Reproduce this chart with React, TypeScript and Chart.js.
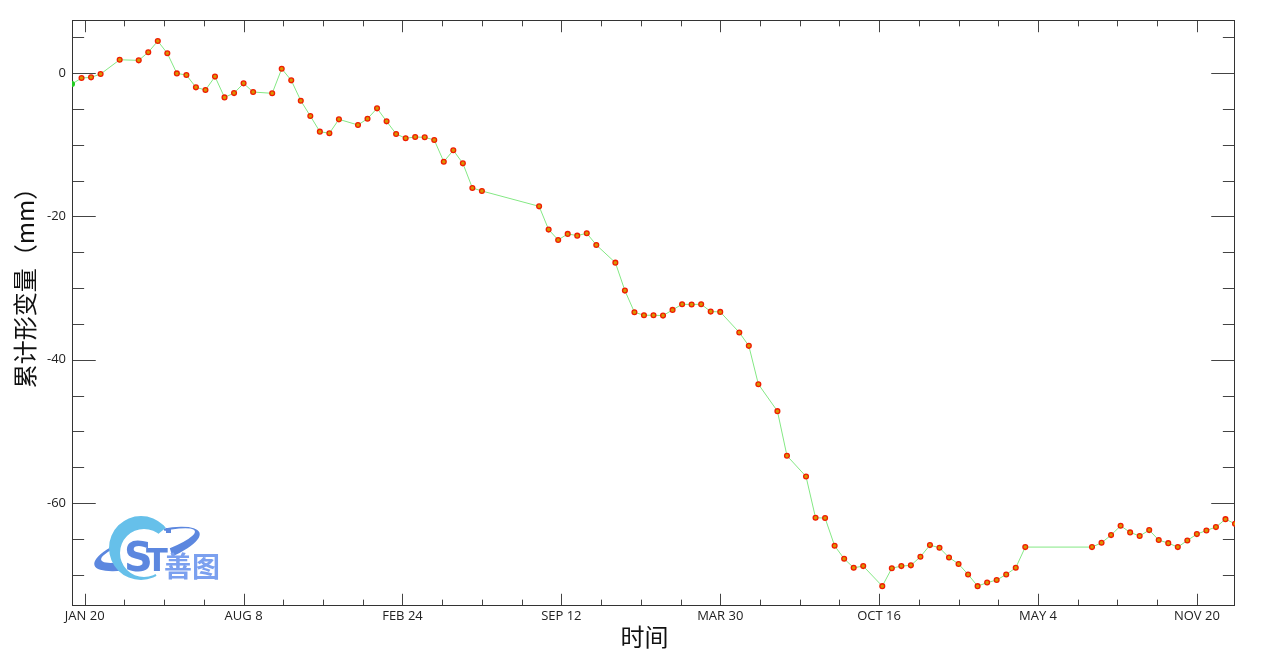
import { useEffect, useRef } from "react";
import { Chart, registerables } from "chart.js";

Chart.register(...registerables);

// Days since the first labelled date (JAN 20), 12-day acquisitions
const days = [
  -16, -4, 8, 20, 44, 68, 80, 92, 104, 116, 128, 140, 152, 164, 176, 188, 200, 212,
  236, 248, 260, 272, 284, 296, 308, 320, 344, 356, 368, 380, 392, 404, 416, 428, 440,
  452, 464, 476, 488, 500, 572, 584, 596, 608, 620, 632, 644, 668, 680, 692, 704, 716,
  728, 740, 752, 764, 776, 788, 800, 824, 836, 848, 872, 884, 908, 920, 932, 944, 956,
  968, 980, 1004, 1016, 1028, 1040, 1052, 1064, 1076, 1088, 1100, 1112, 1124, 1136,
  1148, 1160, 1172, 1184, 1268, 1280, 1292, 1304, 1316, 1328, 1340, 1352, 1364, 1376,
  1388, 1400, 1412, 1424, 1436, 1448,
];

// Cumulative deformation (mm)
const deformation = [
  -1.53, -0.7, -0.6, -0.14, 1.85, 1.77, 2.9, 4.46, 2.75, -0.05, -0.28, -2.0, -2.37, -0.5,
  -3.4, -2.8, -1.44, -2.65, -2.83, 0.6, -1.02, -3.86, -6.0, -8.18, -8.41, -6.46, -7.25,
  -6.37, -4.93, -6.74, -8.5, -9.1, -8.93, -8.97, -9.34, -12.37, -10.78, -12.6, -16.04,
  -16.46, -18.6, -21.85, -23.29, -22.45, -22.69, -22.36, -23.99, -26.46, -30.36, -33.38,
  -33.8, -33.8, -33.85, -33.05, -32.26, -32.3, -32.26, -33.29, -33.33, -36.2, -38.07,
  -43.42, -47.18, -53.4, -56.3, -62.06, -62.1, -65.97, -67.78, -69.04, -68.8, -71.6,
  -69.1, -68.8, -68.7, -67.5, -65.87, -66.25, -67.6, -68.5, -69.97, -71.6, -71.1, -70.75,
  -69.97, -69.04, -66.15, -66.15, -65.55, -64.48, -63.18, -64.1, -64.6, -63.78, -65.17,
  -65.6, -66.15, -65.23, -64.34, -63.83, -63.36, -62.25, -62.9,
];

const xTickValues = [0, 200, 400, 600, 800, 1000, 1200, 1400];
const xTickLabels = ["JAN 20", "AUG 8", "FEB 24", "SEP 12", "MAR 30", "OCT 16", "MAY 4", "NOV 20"];
const xMinorValues = [50, 100, 150, 250, 300, 350, 450, 500, 550, 650, 700, 750, 850, 900, 950, 1050, 1100, 1150, 1250, 1300, 1350];
const yTickValues = [-60, -40, -20, 0];
const yMinorValues = [-70, -65, -55, -50, -45, -35, -30, -25, -15, -10, -5, 5];

const xTitle = "时间";
const yTitle = "累计形变量（mm）";
const logoText = "善图";

const X_MIN = -16;
const X_MAX = 1448;
const Y_MIN = -74.37;
const Y_MAX = 7.4;

const CJK = '"Noto Sans CJK SC", sans-serif';
const TICK_FONT = '"Open Sans", "Noto Sans", sans-serif';

function drawLogo(ctx: CanvasRenderingContext2D) {
  ctx.save();
  // dark-blue swoosh crescents
  ctx.save();
  ctx.translate(147, 549);
  ctx.rotate(-0.3);
  ctx.beginPath();
  ctx.rect(-80, -40, 52, 80);
  ctx.rect(22, -40, 60, 80);
  ctx.clip();
  ctx.beginPath();
  ctx.ellipse(0, 0, 55, 16, 0, 0, Math.PI * 2);
  ctx.ellipse(2, -3, 49, 10, 0, 0, Math.PI * 2);
  ctx.fillStyle = "#5c87df";
  ctx.fill("evenodd");
  ctx.restore();

  // light-blue globe crescent
  ctx.save();
  ctx.beginPath();
  ctx.moveTo(141, 548);
  ctx.lineTo(200, 500);
  ctx.lineTo(90, 500);
  ctx.lineTo(90, 600);
  ctx.lineTo(170, 600);
  ctx.closePath();
  ctx.clip();
  ctx.beginPath();
  ctx.arc(141, 548, 32, 0, Math.PI * 2);
  ctx.arc(144, 553, 24, 0, Math.PI * 2);
  ctx.fillStyle = "#66c0ea";
  ctx.fill("evenodd");
  ctx.restore();

  // S and T
  ctx.fillStyle = "#5c87df";
  ctx.textBaseline = "alphabetic";
  ctx.textAlign = "left";
  ctx.font = 'bold 40px "DejaVu Sans", sans-serif';
  ctx.fillText("S", 124, 571);
  ctx.font = 'bold 32px "DejaVu Sans", sans-serif';
  ctx.fillText("T", 146, 571);
  ctx.fillRect(166, 528, 5, 5);

  // 善图
  ctx.fillStyle = "#7ba0ef";
  ctx.font = `bold 28px ${CJK}`;
  ctx.fillText(logoText, 164, 577);
  ctx.restore();
}

const framePlugin = {
  id: "idlFrame",
  beforeDatasetsDraw(chart: any) {
    const { ctx, chartArea: a, scales } = chart;
    const xs = scales.x;
    const ys = scales.y;
    const L = Math.round(a.left) + 0.5;
    const R = Math.round(a.right) - 0.5;
    const T = Math.round(a.top) + 0.5;
    const B = Math.round(a.bottom) - 0.5;
    const yMajor = (a.right - a.left) * 0.02;
    const xMajor = (a.bottom - a.top) * 0.02;
    ctx.save();
    ctx.lineWidth = 1;
    ctx.strokeStyle = "#444";
    ctx.beginPath();
    const yTick = (v: number, len: number) => {
      const p = Math.round(ys.getPixelForValue(v)) + 0.5;
      ctx.moveTo(L, p);
      ctx.lineTo(L + len, p);
      ctx.moveTo(R, p);
      ctx.lineTo(R - len, p);
    };
    const xTick = (v: number, len: number) => {
      const p = Math.round(xs.getPixelForValue(v)) + 0.5;
      ctx.moveTo(p, B);
      ctx.lineTo(p, B - len);
      ctx.moveTo(p, T);
      ctx.lineTo(p, T + len);
    };
    yTickValues.forEach((v) => yTick(v, yMajor));
    yMinorValues.forEach((v) => yTick(v, yMajor / 2));
    xTickValues.forEach((v) => xTick(v, xMajor));
    xMinorValues.forEach((v) => xTick(v, xMajor / 2));
    ctx.stroke();
    ctx.strokeStyle = "#333";
    ctx.strokeRect(L, T, R - L, B - T);
    ctx.restore();
  },
  afterDraw(chart: any) {
    const { ctx, chartArea: a } = chart;
    ctx.save();
    ctx.fillStyle = "#111";
    ctx.font = `24px ${CJK}`;
    ctx.textAlign = "center";
    ctx.textBaseline = "middle";
    ctx.fillText(xTitle, (a.left + a.right) / 2 - 9, a.bottom + 31);
    ctx.translate(a.left - 47, (a.top + a.bottom) / 2 - 31);
    ctx.rotate(-Math.PI / 2);
    ctx.fillText(yTitle, 0, 0);
    ctx.restore();
    drawLogo(ctx);
  },
};

export default function App() {
  const ref = useRef<HTMLCanvasElement>(null);

  useEffect(() => {
    if (!ref.current) return;
    const points = days.map((d, i) => ({ x: d, y: deformation[i] }));
    const fill = points.map((_, i) => (i === 0 ? "#22cc22" : "#d99400"));
    const border = points.map((_, i) => (i === 0 ? "#22cc22" : "#f01c00"));
    const chart = new Chart(ref.current, {
      type: "line",
      data: {
        datasets: [
          {
            data: points,
            borderColor: "#84e884",
            borderWidth: 1,
            pointRadius: 2.4,
            pointBorderWidth: 1.3,
            pointBackgroundColor: fill,
            pointBorderColor: border,
            tension: 0,
          },
        ],
      },
      options: {
        responsive: false,
        animation: false,
        devicePixelRatio: 1,
        layout: { padding: { top: 20, right: 29, left: 0, bottom: 0 } },
        plugins: { legend: { display: false }, tooltip: { enabled: false } },
        scales: {
          x: {
            type: "linear",
            min: X_MIN,
            max: X_MAX,
            grid: { display: false, drawTicks: false },
            border: { display: false },
            afterBuildTicks: (s: any) => {
              s.ticks = xTickValues.map((v) => ({ value: v }));
            },
            afterFit: (s: any) => {
              s.height = 59;
            },
            ticks: {
              autoSkip: false,
              maxRotation: 0,
              padding: 2,
              color: "#222",
              font: { family: TICK_FONT, size: 13 },
              callback: (v: any) => {
                const i = xTickValues.indexOf(Number(v));
                return i >= 0 ? xTickLabels[i] : "";
              },
            },
          },
          y: {
            min: Y_MIN,
            max: Y_MAX,
            grid: { display: false, drawTicks: false },
            border: { display: false },
            afterBuildTicks: (s: any) => {
              s.ticks = yTickValues.map((v) => ({ value: v }));
            },
            afterFit: (s: any) => {
              s.width = 72;
            },
            ticks: {
              padding: 6,
              color: "#222",
              font: { family: TICK_FONT, size: 13 },
              callback: (v: any) => String(v),
            },
          },
        },
      },
      plugins: [framePlugin],
    });
    return () => chart.destroy();
  }, []);

  return (
    <div style={{ position: "absolute", left: 0, top: 0, width: 1264, height: 665, background: "#fff" }}>
      <canvas ref={ref} width={1264} height={665} />
    </div>
  );
}
